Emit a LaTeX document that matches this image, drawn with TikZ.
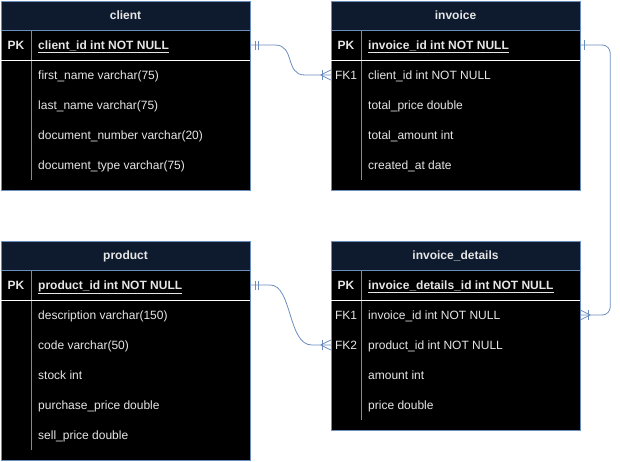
\documentclass[tikz,border=0pt]{standalone}
\usepackage{fontspec}
\setmainfont{Liberation Sans}
\definecolor{hdrfill}{HTML}{0E1B2E}
\definecolor{edgeblue}{HTML}{6C8EBF}
\definecolor{txt}{HTML}{E6E6E6}
\newcommand{\tfont}{\fontsize{12}{14}\selectfont}
\tikzset{
  tblhead/.style={draw=edgeblue, fill=hdrfill, minimum width=249pt, minimum height=29pt, inner sep=0pt, text=txt, font=\tfont\bfseries, text height=8.6pt, text depth=0pt},
  tblbody/.style={draw=edgeblue, fill=black, minimum width=249pt, inner sep=0pt},
  rowanchor/.style={minimum width=249pt, minimum height=30pt, inner sep=0pt},
  keytxt/.style={text=txt, font=\tfont\bfseries, inner sep=0pt, anchor=base, yshift=-4.4pt},
  fkeytxt/.style={text=txt, font=\tfont, inner sep=0pt, anchor=base, yshift=-4.4pt},
  fieldtxt/.style={text=txt, font=\tfont, anchor=base west, inner sep=0pt, yshift=-4.4pt},
  pktxt/.style={text=txt, font=\tfont\bfseries, anchor=base west, inner sep=0pt, yshift=-4.4pt},
  divider/.style={draw=edgeblue, line width=0.8pt},
  sepline/.style={draw=white, line width=1pt},
  rel/.style={draw=edgeblue, line width=0.8pt},
}
\begin{document}
\begin{tikzpicture}[x=1pt,y=-1pt]
\useasboundingbox[fill=white] (0,0) rectangle (620,461);

% ---------- client ----------
\node[tblbody, minimum height=160pt] (clbody) at (125.5,110) {};
\node[tblhead] (client) at (125.5,15.5) {client};
\draw[divider] (31,30) -- (31,180);
\draw[sepline] (1,60) -- (250,60);
\node[rowanchor] (clpk) at (125.5,45) {};
\node[keytxt] (clpkk) at (16,45) {PK};
\node[pktxt] (clf0) at (38,45) {\underline{client\_id int NOT NULL}};
\node[fieldtxt] (clf1) at (38,75) {first\_name varchar(75)};
\node[fieldtxt] (clf2) at (38,105) {last\_name varchar(75)};
\node[fieldtxt] (clf3) at (38,135) {document\_number varchar(20)};
\node[fieldtxt] (clf4) at (38,165) {document\_type varchar(75)};

% ---------- invoice ----------
\node[tblbody, minimum height=160pt] (invbody) at (455.5,110) {};
\node[tblhead] (invoice) at (455.5,15.5) {invoice};
\draw[divider] (361,30) -- (361,180);
\draw[sepline] (331,60) -- (580,60);
\node[rowanchor] (invpk) at (455.5,45) {};
\node[rowanchor] (invfk) at (455.5,75) {};
\node[keytxt] (invpkk) at (346,45) {PK};
\node[fkeytxt] (invfkk) at (346,75) {FK1};
\node[pktxt] (invf0) at (368,45) {\underline{invoice\_id int NOT NULL}};
\node[fieldtxt] (invf1) at (368,75) {client\_id int NOT NULL};
\node[fieldtxt] (invf2) at (368,105) {total\_price double};
\node[fieldtxt] (invf3) at (368,135) {total\_amount int};
\node[fieldtxt] (invf4) at (368,165) {created\_at date};

% ---------- product ----------
\node[tblbody, minimum height=190pt] (prbody) at (125.5,365) {};
\node[tblhead] (product) at (125.5,255.5) {product};
\draw[divider] (31,270) -- (31,450);
\draw[sepline] (1,300) -- (250,300);
\node[rowanchor] (prpk) at (125.5,285) {};
\node[keytxt] (prpkk) at (16,285) {PK};
\node[pktxt] (prf0) at (38,285) {\underline{product\_id int NOT NULL}};
\node[fieldtxt] (prf1) at (38,315) {description varchar(150)};
\node[fieldtxt] (prf2) at (38,345) {code varchar(50)};
\node[fieldtxt] (prf3) at (38,375) {stock int};
\node[fieldtxt] (prf4) at (38,405) {purchase\_price double};
\node[fieldtxt] (prf5) at (38,435) {sell\_price double};

% ---------- invoice_details ----------
\node[tblbody, minimum height=160pt] (idbody) at (455.5,350) {};
\node[tblhead] (invdet) at (455.5,255.5) {invoice\_details};
\draw[divider] (361,270) -- (361,420);
\draw[sepline] (331,300) -- (580,300);
\node[rowanchor] (idpk) at (455.5,285) {};
\node[rowanchor] (idfka) at (455.5,315) {};
\node[rowanchor] (idfkb) at (455.5,345) {};
\node[keytxt] (idpkk) at (346,285) {PK};
\node[fkeytxt] (idfkak) at (346,315) {FK1};
\node[fkeytxt] (idfkbk) at (346,345) {FK2};
\node[pktxt] (idf0) at (368,285) {\underline{invoice\_details\_id int NOT NULL}};
\node[fieldtxt] (idf1) at (368,315) {invoice\_id int NOT NULL};
\node[fieldtxt] (idf2) at (368,345) {product\_id int NOT NULL};
\node[fieldtxt] (idf3) at (368,375) {amount int};
\node[fieldtxt] (idf4) at (368,405) {price double};

% ---------- relations ----------
% client 1 -- many invoice
\draw[rel] (clpk.east) -- ++(25,0) .. controls +(20,0) and +(-20,0) .. ([xshift=-26pt]invfk.west) -- (invfk.west);
\draw[rel] ([xshift=5pt,yshift=4.5pt]clpk.east) -- ([xshift=5pt,yshift=-4.5pt]clpk.east);
\draw[rel] ([xshift=8pt,yshift=4.5pt]clpk.east) -- ([xshift=8pt,yshift=-4.5pt]clpk.east);
\draw[rel] ([xshift=-8pt,yshift=5pt]invfk.west) -- ([xshift=-8pt,yshift=-5pt]invfk.west);
\draw[rel] ([xshift=-10pt]invfk.west) -- ([yshift=5pt]invfk.west);
\draw[rel] ([xshift=-10pt]invfk.west) -- ([yshift=-5pt]invfk.west);

% product 1 -- many invoice_details
\draw[rel] (prpk.east) -- ++(20,0) .. controls +(22,0) and +(-24,0) .. ([xshift=-19pt]idfkb.west) -- (idfkb.west);
\draw[rel] ([xshift=5pt,yshift=4.5pt]prpk.east) -- ([xshift=5pt,yshift=-4.5pt]prpk.east);
\draw[rel] ([xshift=8pt,yshift=4.5pt]prpk.east) -- ([xshift=8pt,yshift=-4.5pt]prpk.east);
\draw[rel] ([xshift=-8pt,yshift=5pt]idfkb.west) -- ([xshift=-8pt,yshift=-5pt]idfkb.west);
\draw[rel] ([xshift=-10pt]idfkb.west) -- ([yshift=5pt]idfkb.west);
\draw[rel] ([xshift=-10pt]idfkb.west) -- ([yshift=-5pt]idfkb.west);

% invoice 1 -- many invoice_details
\draw[rel, rounded corners=8pt] (invpk.east) -- ++(30,0) |- (idfka.east);
\draw[rel] ([xshift=4pt,yshift=5pt]invpk.east) -- ([xshift=4pt,yshift=-5pt]invpk.east);
\draw[rel] ([xshift=8pt,yshift=5pt]idfka.east) -- ([xshift=8pt,yshift=-5pt]idfka.east);
\draw[rel] ([xshift=10pt]idfka.east) -- ([yshift=5pt]idfka.east);
\draw[rel] ([xshift=10pt]idfka.east) -- ([yshift=-5pt]idfka.east);
\end{tikzpicture}
\end{document}
